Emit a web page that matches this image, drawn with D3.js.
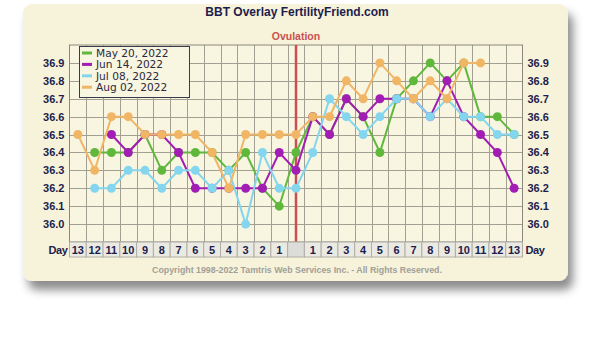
<!DOCTYPE html>
<html>
<head>
<meta charset="utf-8">
<script src="https://cdnjs.cloudflare.com/ajax/libs/d3/7.8.5/d3.min.js"></script>
<style>
  body { margin: 0; background: #fff; }
  svg { display: block; }
</style>
</head>
<body>
<svg id="chart" width="600" height="340"></svg>
<script>
(function() {
    'use strict';

    // day columns: 13 days before ovulation, ovulation day, 13 days after
    var dayLabels = ['13', '12', '11', '10', '9', '8', '7', '6', '5', '4', '3', '2', '1', '',
                     '1', '2', '3', '4', '5', '6', '7', '8', '9', '10', '11', '12', '13'];
    var ovulationIndex = 13;
    var tempTicks = [36.0, 36.1, 36.2, 36.3, 36.4, 36.5, 36.6, 36.7, 36.8, 36.9];

    var seriesNames = ['May 20, 2022', 'Jun 14, 2022', 'Jul 08, 2022', 'Aug 02, 2022'];
    var seriesColors = ['#5fb83c', '#a21db3', '#84d6ee', '#f1b665'];

    var may20 = [null, 36.4, 36.4, 36.4, 36.5, 36.3, 36.4, 36.4, 36.4, 36.3, 36.4, 36.2, 36.1, 36.4,
                 36.6, 36.5, 36.7, 36.6, 36.4, 36.7, 36.8, 36.9, 36.8, 36.9, 36.6, 36.6, 36.5];
    var jun14 = [null, null, 36.5, 36.4, 36.5, 36.5, 36.4, 36.2, 36.2, 36.2, 36.2, 36.2, 36.4, 36.3,
                 36.6, 36.5, 36.7, 36.6, 36.7, 36.7, 36.7, 36.6, 36.8, 36.6, 36.5, 36.4, 36.2];
    var jul08 = [null, 36.2, 36.2, 36.3, 36.3, 36.2, 36.3, 36.3, 36.2, 36.3, 36.0, 36.4, 36.2, 36.2,
                 36.4, 36.7, 36.6, 36.5, 36.6, 36.7, 36.7, 36.6, 36.7, 36.6, 36.6, 36.5, 36.5];
    var aug02 = [36.5, 36.3, 36.6, 36.6, 36.5, 36.5, 36.5, 36.5, 36.4, 36.2, 36.5, 36.5, 36.5, 36.5,
                 36.6, 36.6, 36.8, 36.7, 36.9, 36.8, 36.7, 36.8, 36.7, 36.9, 36.9, null, null];
    var seriesValues = [may20, jun14, jul08, aug02];

    var svg = d3.select('#chart');
    var left = 69.5, right = 522.5, top = 45, bottom = 242;
    var textColor = '#1d1d4d';
    var boldFont = '"Liberation Sans", Arial, sans-serif';

    var x = d3.scaleBand()
        .domain(d3.range(dayLabels.length))
        .range([left, right]);
    var y = d3.scaleLinear()
        .domain([35.9, 37.0])
        .range([bottom, top]);

    // card with shadow
    var defs = svg.append('defs');
    var shadow = defs.append('filter')
        .attr('id', 'shadow')
        .attr('x', '-10%').attr('y', '-10%')
        .attr('width', '130%').attr('height', '140%');
    shadow.append('feDropShadow')
        .attr('dx', 5).attr('dy', 9)
        .attr('stdDeviation', 5)
        .attr('flood-color', '#000')
        .attr('flood-opacity', 0.45);

    svg.append('rect')
        .attr('x', 23).attr('y', 4)
        .attr('width', 545).attr('height', 277)
        .attr('rx', 9)
        .attr('fill', '#f7f3da')
        .attr('filter', 'url(#shadow)');

    svg.append('text')
        .attr('x', 297).attr('y', 16)
        .attr('text-anchor', 'middle')
        .attr('font-family', boldFont)
        .attr('font-weight', 'bold')
        .attr('font-size', 12)
        .attr('fill', textColor)
        .text('BBT Overlay FertilityFriend.com');

    svg.append('text')
        .attr('x', x(ovulationIndex) + x.bandwidth() / 2).attr('y', 40)
        .attr('text-anchor', 'middle')
        .attr('font-family', boldFont)
        .attr('font-weight', 'bold')
        .attr('font-size', 10.5)
        .attr('fill', '#c9504e')
        .text('Ovulation');

    // plot background
    svg.append('rect')
        .attr('x', left).attr('y', top)
        .attr('width', right - left).attr('height', bottom - top)
        .attr('fill', '#f8f5e1');

    // grid
    var grid = svg.append('g').attr('stroke', '#a29f93').attr('stroke-width', 1);
    grid.selectAll('line.v')
        .data(d3.range(1, dayLabels.length))
        .enter().append('line')
        .attr('class', 'v')
        .attr('x1', function(d) { return Math.round(x(d)) + 0.5; })
        .attr('x2', function(d) { return Math.round(x(d)) + 0.5; })
        .attr('y1', top).attr('y2', bottom);
    grid.selectAll('line.h')
        .data(tempTicks)
        .enter().append('line')
        .attr('class', 'h')
        .attr('x1', left).attr('x2', right)
        .attr('y1', function(d) { return Math.round(y(d)) + 0.5; })
        .attr('y2', function(d) { return Math.round(y(d)) + 0.5; });

    svg.append('rect')
        .attr('x', left).attr('y', top)
        .attr('width', right - left).attr('height', bottom - top)
        .attr('fill', 'none')
        .attr('stroke', '#8a877c');

    // ovulation line
    svg.append('line')
        .attr('x1', x(ovulationIndex) + x.bandwidth() / 2)
        .attr('x2', x(ovulationIndex) + x.bandwidth() / 2)
        .attr('y1', top).attr('y2', bottom)
        .attr('stroke', '#c9504e')
        .attr('stroke-width', 2.5);

    // temperature axes on both sides
    var yLeft = svg.append('g')
        .attr('transform', 'translate(' + (left - 2) + ',0)')
        .call(d3.axisLeft(y).tickValues(tempTicks).tickSize(0).tickFormat(d3.format('.1f')));
    var yRight = svg.append('g')
        .attr('transform', 'translate(' + (right + 2) + ',0)')
        .call(d3.axisRight(y).tickValues(tempTicks).tickSize(0).tickFormat(d3.format('.1f')));
    [yLeft, yRight].forEach(function(g) {
        g.select('.domain').remove();
        g.selectAll('text')
            .attr('font-family', boldFont)
            .attr('font-weight', 'bold')
            .attr('font-size', 11)
            .attr('fill', textColor);
    });

    // day row
    var rowTop = 242, rowHeight = 15;
    var dayRow = svg.append('g');
    dayRow.selectAll('rect')
        .data(dayLabels)
        .enter().append('rect')
        .attr('x', function(d, i) { return x(i); })
        .attr('y', rowTop)
        .attr('width', x.bandwidth())
        .attr('height', rowHeight)
        .attr('fill', function(d, i) { return i === ovulationIndex ? '#dcdcd8' : '#ebeae2'; })
        .attr('stroke', '#b0aea6')
        .attr('stroke-width', 1);
    dayRow.selectAll('text')
        .data(dayLabels)
        .enter().append('text')
        .attr('x', function(d, i) { return x(i) + x.bandwidth() / 2; })
        .attr('y', rowTop + 11.5)
        .attr('text-anchor', 'middle')
        .attr('font-family', boldFont)
        .attr('font-weight', 'bold')
        .attr('font-size', 11)
        .attr('fill', textColor)
        .text(function(d) { return d; });
    [[left - 2, 'end'], [right + 3, 'start']].forEach(function(p) {
        dayRow.append('text')
            .attr('x', p[0]).attr('y', rowTop + 11.5)
            .attr('text-anchor', p[1])
            .attr('font-family', boldFont)
            .attr('font-weight', 'bold')
            .attr('font-size', 11)
            .attr('letter-spacing', -0.4)
            .attr('fill', textColor)
            .text('Day');
    });

    // series
    var line = d3.line()
        .defined(function(d) { return d != null; })
        .x(function(d, i) { return x(i) + x.bandwidth() / 2; })
        .y(function(d) { return y(d); });

    seriesValues.forEach(function(values, s) {
        var g = svg.append('g');
        g.append('path')
            .datum(values)
            .attr('d', line)
            .attr('fill', 'none')
            .attr('stroke', seriesColors[s])
            .attr('stroke-width', 2);
        g.selectAll('circle')
            .data(values.map(function(v, i) { return { v: v, i: i }; })
                .filter(function(d) { return d.v != null; }))
            .enter().append('circle')
            .attr('cx', function(d) { return x(d.i) + x.bandwidth() / 2; })
            .attr('cy', function(d) { return y(d.v); })
            .attr('r', 4.5)
            .attr('fill', seriesColors[s]);
    });

    // legend
    var legend = svg.append('g');
    legend.append('rect')
        .attr('x', 79.5).attr('y', 46.5)
        .attr('width', 110).attr('height', 51)
        .attr('fill', '#f8f5e1')
        .attr('stroke', '#3a3a4a');
    var item = legend.selectAll('g.item')
        .data(seriesNames)
        .enter().append('g')
        .attr('class', 'item')
        .attr('transform', function(d, i) { return 'translate(0,' + (53 + i * 11.4) + ')'; });
    item.append('line')
        .attr('x1', 82).attr('x2', 92)
        .attr('stroke', function(d, i) { return seriesColors[i]; })
        .attr('stroke-width', 3);
    item.append('text')
        .attr('x', 96).attr('y', 3.8)
        .attr('font-family', '"DejaVu Sans", sans-serif')
        .attr('font-size', 10.6)
        .attr('fill', '#2a2a40')
        .text(function(d) { return d; });

    svg.append('text')
        .attr('x', 297).attr('y', 273)
        .attr('text-anchor', 'middle')
        .attr('font-family', boldFont)
        .attr('font-weight', 'bold')
        .attr('font-size', 8.8)
        .attr('fill', '#a19f98')
        .text('Copyright 1998-2022 Tamtris Web Services Inc. - All Rights Reserved.');
}());
</script>
</body>
</html>
